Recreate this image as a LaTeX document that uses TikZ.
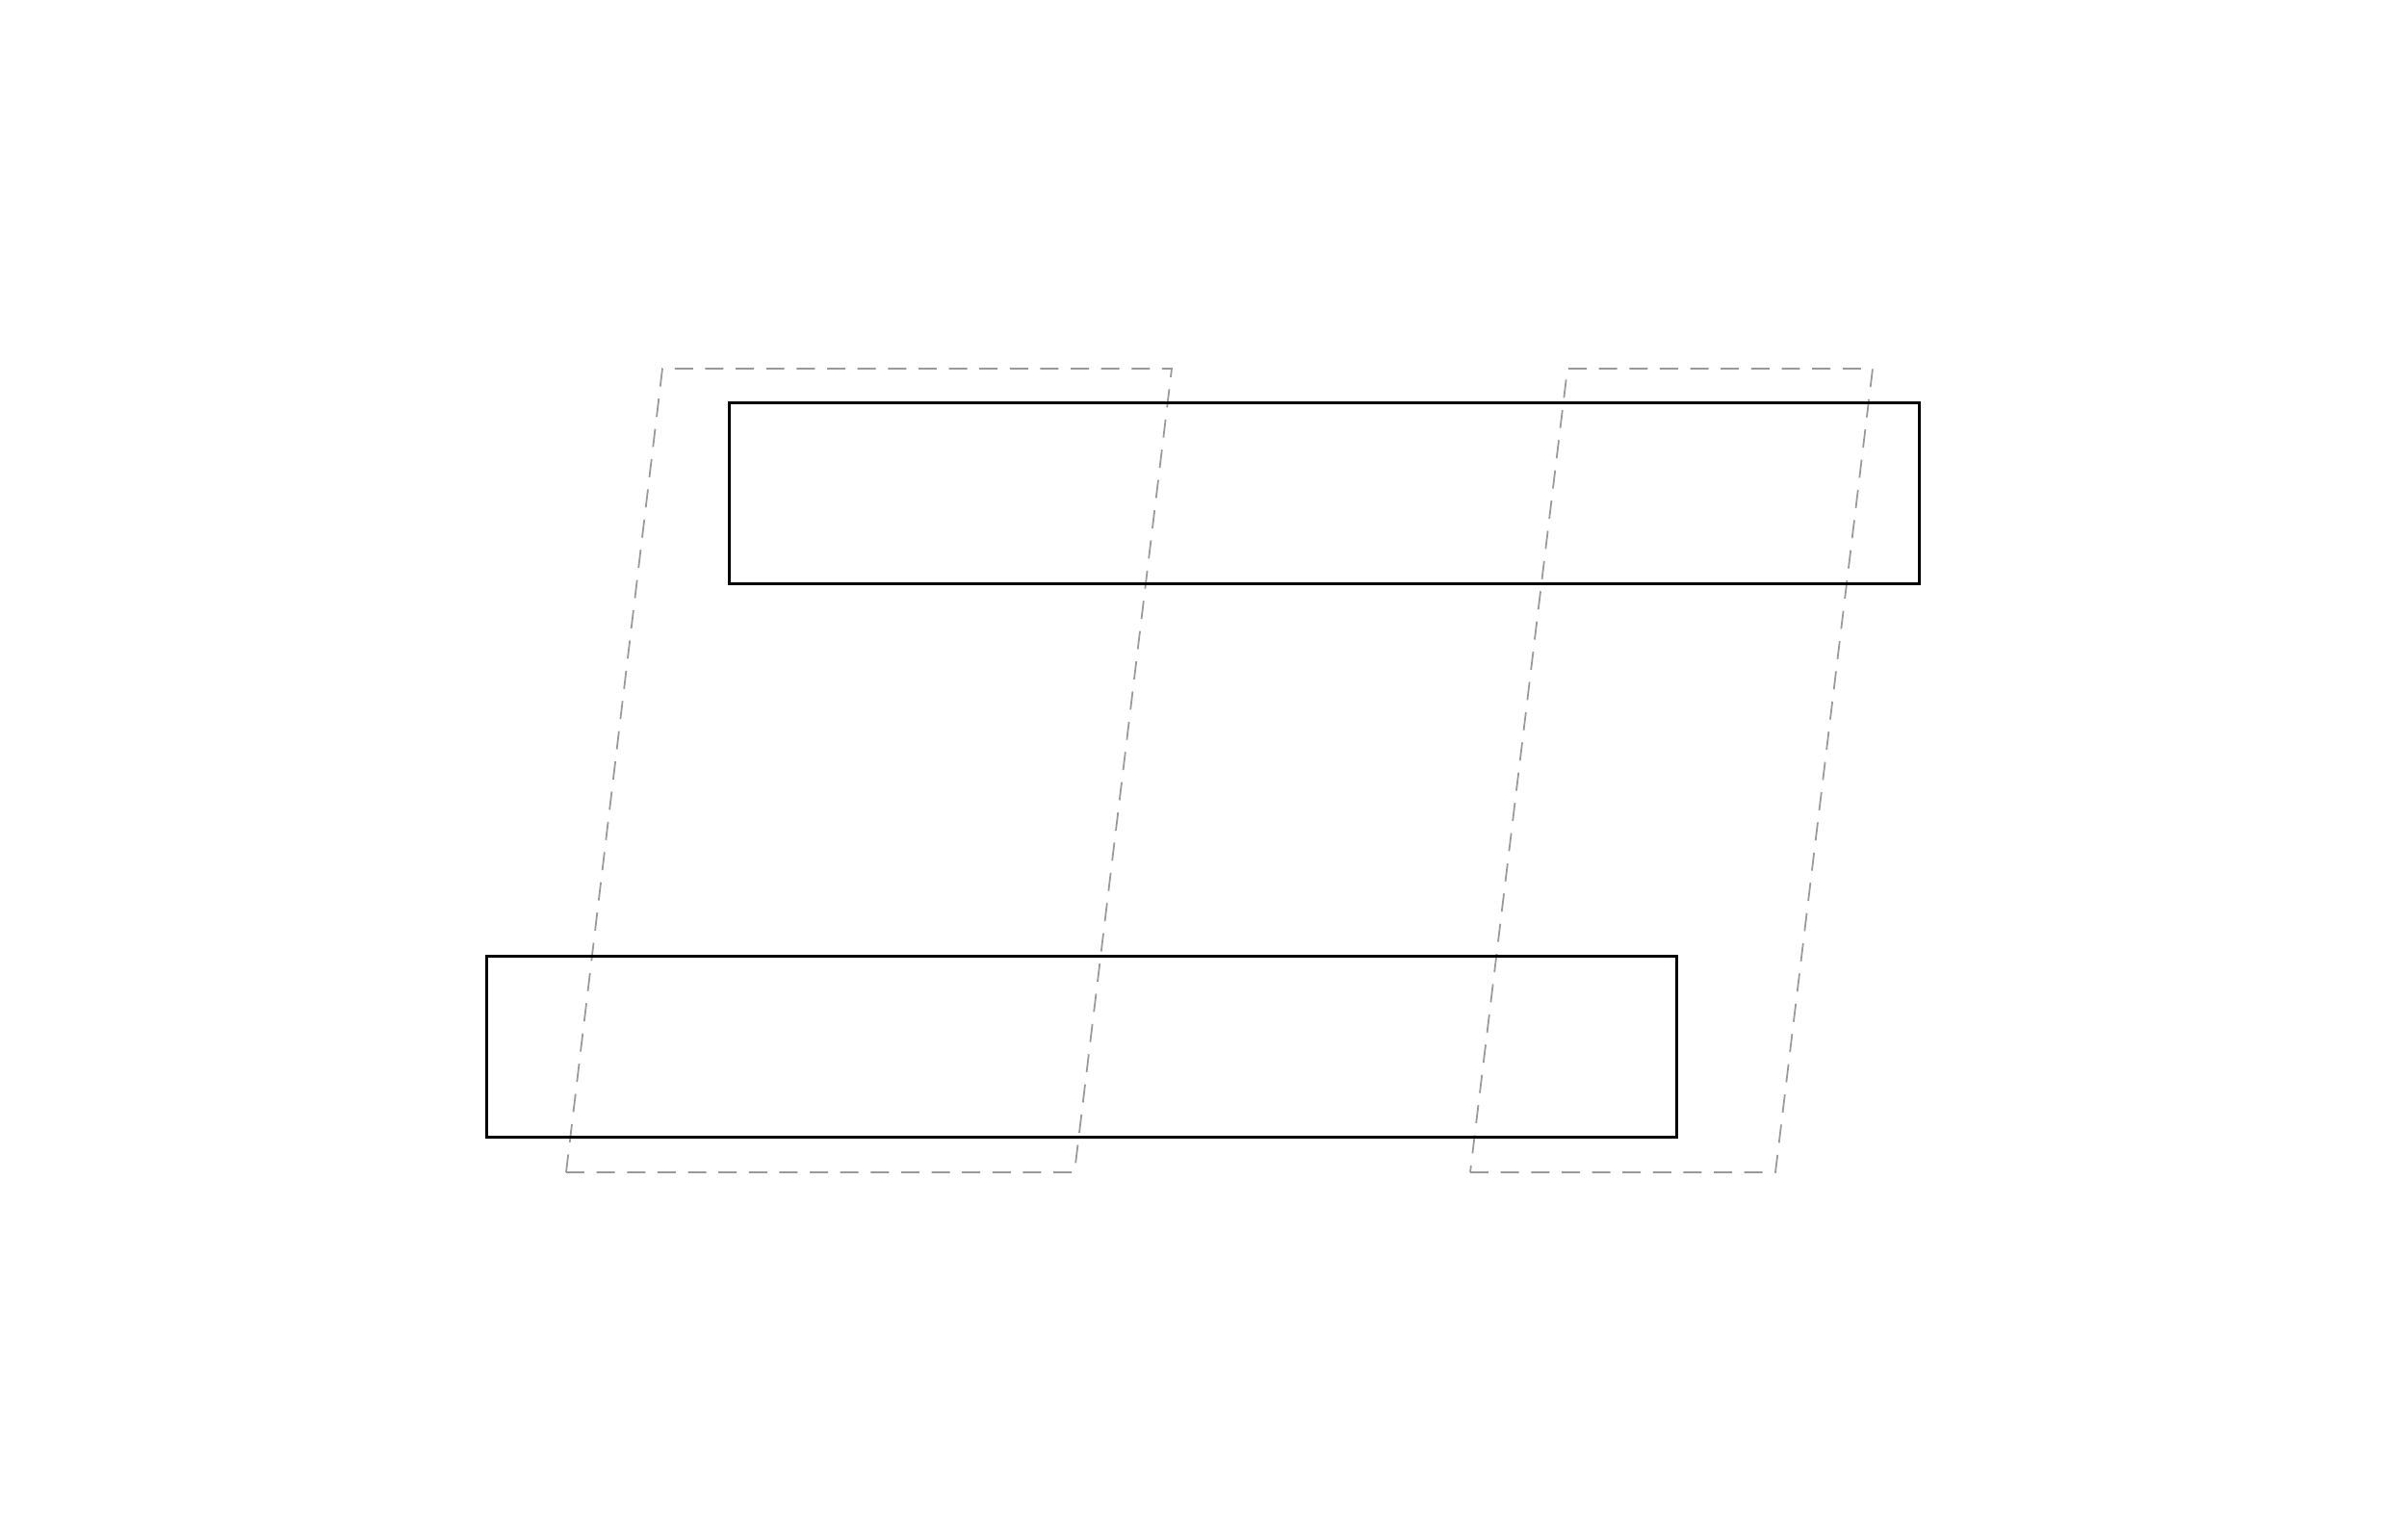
\documentclass[tikz,border=0pt]{standalone}
\usepackage{tikz}

\tikzset{
  shear/.style={draw=black!40, line width=0.5pt, dash pattern=on 5.4pt off 3.6pt},
  bar/.style={draw=black, line width=0.85pt}
}

\begin{document}
\begin{tikzpicture}[baseline, line width=0.85pt, scale=1.0]

  \useasboundingbox (0,0) rectangle (25,16);

  \begin{scope}[xshift=0.0cm, yshift=0.0cm]

  \draw (7.57,9.93) coordinate[name=t1];
  \draw (19.93,11.81) coordinate[name=t2];
  \draw (5.05,4.18) coordinate[name=b1];
  \draw (17.41,6.06) coordinate[name=b2];

  \draw (5.88,3.82) coordinate[name=l1];
  \draw (11.16,3.82) coordinate[name=l2];
  \draw (12.17,12.17) coordinate[name=l3];
  \draw (6.88,12.17) coordinate[name=l4];

  \draw (15.27,3.82) coordinate[name=r1];
  \draw (18.44,3.82) coordinate[name=r2];
  \draw (19.45,12.17) coordinate[name=r3];
  \draw (16.28,12.17) coordinate[name=r4];

  %\draw [shear] (l1) -- (r1);
  \draw [shear] (l1) -- (l2) -- (l3) -- (l4) -- cycle;
  \draw [shear] (r1) -- (r2) -- (r3) -- (r4) -- cycle;

  \draw [bar] (t1) rectangle (t2);
  \draw [bar] (b1) rectangle (b2);

  \end{scope}

\end{tikzpicture}
\end{document}
